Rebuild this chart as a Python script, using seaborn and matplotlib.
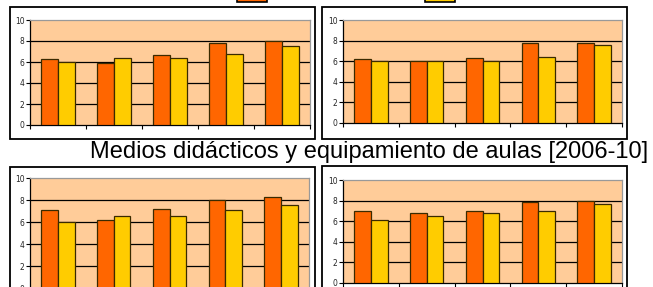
import numpy as np
import pandas as pd
import seaborn as sns
import matplotlib.pyplot as plt
from matplotlib.patches import Rectangle

# Values (orange = first series, yellow = second)
grupos = ["G1", "G2", "G3", "G4", "G5"]
series = ["A", "B"]
sup_izq_a = [6.25, 5.94, 6.63, 7.78, 8.03]
sup_izq_b = [6.03, 6.38, 6.38, 6.73, 7.52]
sup_der_a = [6.17, 6.04, 6.27, 7.79, 7.79]
sup_der_b = [6.04, 6.04, 6.04, 6.36, 7.53]
inf_izq_a = [7.06, 6.15, 7.15, 8.03, 8.24]
inf_izq_b = [6.03, 6.55, 6.55, 7.06, 7.55]
inf_der_a = [6.95, 6.75, 6.95, 7.84, 8.00]
inf_der_b = [6.07, 6.49, 6.75, 6.95, 7.64]
y_ticks = [0, 2, 4, 6, 8, 10]
titulo = "Medios didácticos y equipamiento de aulas [2006-10]"

NARANJA = "#FF6600"
AMARILLO = "#FFCC00"
FONDO = "#FFCC99"

sns.set_theme(style="white")
plt.rcParams['font.family'] = ['Liberation Sans', 'DejaVu Sans']

W, H = 653, 287
fig = plt.figure(figsize=(W / 100, H / 100), dpi=100)


def px_rect(x0, y0, x1, y1):
    # pixel box (top-left origin) -> figure fraction [left, bottom, w, h]
    return [x0 / W, 1 - y1 / H, (x1 - x0) / W, (y1 - y0) / H]


def caja(x0, y0, x1, y1):
    l, b, w, h = px_rect(x0, y0, x1, y1)
    fig.patches.append(Rectangle((l, b), w, h, transform=fig.transFigure,
                                 facecolor="white", edgecolor="black",
                                 linewidth=1.3, zorder=-5))


def panel(rect, a, b):
    ax = fig.add_axes(rect)
    df = pd.DataFrame({
        "grupo": grupos * 2,
        "serie": [series[0]] * 5 + [series[1]] * 5,
        "valor": a + b,
    })
    sns.barplot(data=df, x="grupo", y="valor", hue="serie",
                palette=[NARANJA, AMARILLO], saturation=1, width=0.6,
                edgecolor="#3a2a00", linewidth=0.9, legend=False, ax=ax, zorder=3)
    ax.set_facecolor(FONDO)
    ax.set_xlim(-0.5, 4.5)
    ax.set_ylim(0, 10)
    ax.set_xticks(np.arange(-0.5, 5, 1))
    ax.set_xticklabels([])
    ax.set_yticks(y_ticks)
    ax.set_yticklabels([str(t) for t in y_ticks],
                       family=['Liberation Sans Narrow', 'DejaVu Sans'], fontsize=5.5)
    ax.tick_params(axis="both", direction="out", length=3, width=0.8,
                   color="black", pad=1, bottom=True, left=True)
    for yv in y_ticks[1:-1]:
        ax.axhline(yv, color="black", linewidth=0.9, zorder=1)
    ax.set_xlabel("")
    ax.set_ylabel("")
    for s in ["top", "right"]:
        ax.spines[s].set_color("#999999")
        ax.spines[s].set_linewidth(0.9)
    for s in ["left", "bottom"]:
        ax.spines[s].set_color("black")
        ax.spines[s].set_linewidth(0.9)
    return ax


# chart-area boxes
caja(10, 7, 315, 139)
caja(322, 7, 627, 139)
caja(10, 167, 315, 300)
caja(322, 166, 627, 300)

panel(px_rect(30, 20, 310, 125), sup_izq_a, sup_izq_b)
panel(px_rect(343, 20, 622, 123), sup_der_a, sup_der_b)
panel(px_rect(30, 178, 309, 288), inf_izq_a, inf_izq_b)
panel(px_rect(343, 180, 622, 283), inf_der_a, inf_der_b)

# legend keys of the (cropped) upper title line
for x0, c in [(237, NARANJA), (425, AMARILLO)]:
    l, b, w, h = px_rect(x0, -12, x0 + 30, 2)
    fig.patches.append(Rectangle((l, b), w, h, transform=fig.transFigure,
                                 facecolor=c, edgecolor="black", linewidth=1.2))

fig.text(369 / W, 1 - 158 / H, titulo, ha="center", va="baseline",
         fontsize=17, color="black")

fig.savefig("out.png", dpi=100)
